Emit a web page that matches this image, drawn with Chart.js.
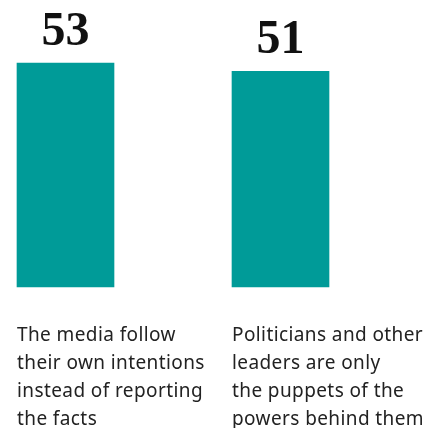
<!DOCTYPE html>
<html>
<head>
<meta charset="utf-8">
<script src="https://cdn.jsdelivr.net/npm/chart.js@4"></script>
<style>
  html, body { margin: 0; padding: 0; background: #fff; }
  #wrap { width: 435px; height: 428px; position: relative; }
</style>
</head>
<body>
<div id="wrap"><canvas id="chart"></canvas></div>
<script>
// categories, each split into the lines shown under the bars
const categorias = [
    ['The media follow', 'their own intentions', 'instead of reporting', 'the facts'],
    ['Politicians and other', 'leaders are only', 'the puppets of the', 'powers behind them']
]
const valores = [53, 51]

const corBarra = '#009b98'
const corTexto = '#222222'

// value above the bar and category text below it
const rotulosPlugin = {
    id: 'rotulos',
    afterDatasetsDraw(chart) {
        const ctx = chart.ctx
        const meta = chart.getDatasetMeta(0)
        const base = chart.scales.y.getPixelForValue(0)
        ctx.save()
        meta.data.forEach((bar, i) => {
            ctx.fillStyle = '#111'
            ctx.letterSpacing = '0px'
            ctx.font = 'bold 48px "Liberation Serif"'
            ctx.textAlign = 'center'
            ctx.textBaseline = 'alphabetic'
            ctx.fillText(String(valores[i]), bar.x, bar.y - 18)

            const left = bar.x - bar.width / 2
            ctx.fillStyle = corTexto
            ctx.font = '19px "Noto Sans"'
            ctx.letterSpacing = '0.4px'
            ctx.textAlign = 'left'
            categorias[i].forEach((linha, j) => {
                ctx.fillText(linha, left, base + 54 + j * 28)
            })
        })
        ctx.restore()
    }
}

const data = {
    labels: categorias.map(c => c.join(' ')),
    datasets: [{
        data: valores,
        backgroundColor: corBarra,
        borderWidth: 0,
        barThickness: 97,
        clip: false
    }]
}

const config = {
    type: 'bar',
    data: data,
    options: {
        responsive: true,
        maintainAspectRatio: false,
        animation: false,
        layout: {
            padding: { left: 65.5, right: 154.5, top: 33.4, bottom: 141 }
        },
        plugins: {
            legend: { display: false },
            tooltip: { enabled: false }
        },
        scales: {
            x: { display: false, offset: false, grid: { display: false } },
            y: { display: false, min: 0, max: 60, grid: { display: false } }
        }
    },
    plugins: [rotulosPlugin]
}

new Chart(document.getElementById('chart'), config)
</script>
</body>
</html>
